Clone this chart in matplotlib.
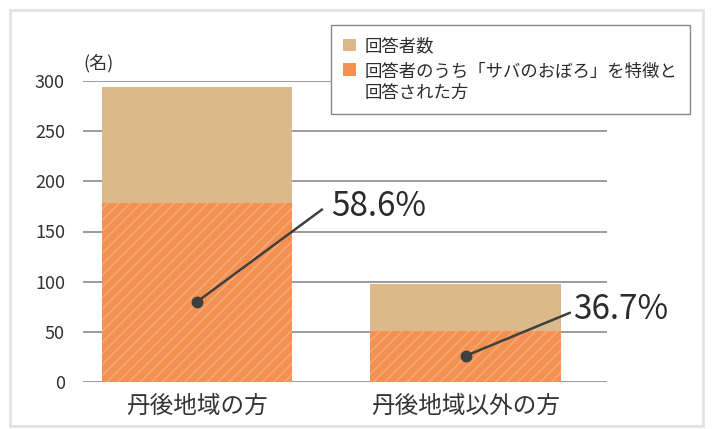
import matplotlib.pyplot as plt
from matplotlib.patches import Patch, Rectangle

plt.rcParams['font.family'] = ['Noto Sans CJK JP', 'DejaVu Sans']
plt.rcParams['hatch.linewidth'] = 1.3

# respondents per area, and those who named "サバのおぼろ" as a feature
areas = ['丹後地域の方', '丹後地域以外の方']
respondents = [294, 98]
named_feature = [178, 51]
pct_labels = ['58.6%', '36.7%']

# annotation geometry (data coords): dot on the bar, line end, text anchor
dot_y = [80, 26]
line_end = [(0.466, 172), (1.389, 69)]
text_pos = [(0.50, 175), (1.40, 72)]

TAN = '#dcb98b'
ORANGE = '#f39152'
STRIPE = '#f6a872'
DARK = '#3f3f3f'

W, H = 712, 429
fig = plt.figure(figsize=(W / 100, H / 100), dpi=100)
ax = fig.add_axes([83 / W, 47 / H, 524 / W, 301 / H])

x = list(range(len(areas)))
bw = 0.708
ax.bar(x, respondents, width=bw, color=TAN, lw=0, zorder=2)
ax.bar(x, named_feature, width=bw, facecolor=ORANGE, edgecolor=STRIPE,
       hatch='///', lw=0, zorder=3)

for i in x:
    ex, ey = line_end[i]
    ax.plot([i, ex], [dot_y[i], ey], color=DARK, lw=1.8, zorder=4,
            solid_capstyle='round')
    ax.plot(i, dot_y[i], 'o', color=DARK, ms=7.5, zorder=5)
    tx, ty = text_pos[i]
    ax.text(tx, ty, pct_labels[i], fontsize=24, color='#2b2b2b',
            va='center', ha='left', zorder=5)

ax.set_xlim(-0.4246, 1.527)
ax.set_ylim(0, 300)
ax.set_yticks(range(0, 301, 50))
ax.set_xticks(x, areas)
ax.yaxis.grid(True, color='#8a8a8a', lw=1.2)
ax.set_axisbelow(True)
for s in ax.spines.values():
    s.set_visible(False)
ax.tick_params(axis='y', length=0, pad=13, labelsize=13, labelcolor='#333333')
ax.tick_params(axis='x', length=0, pad=9, labelsize=17, labelcolor='#333333')

ax.text(0, 1.06, '(名)', transform=ax.transAxes, fontsize=13,
        color='#333333', ha='left', va='center')

handles = [Patch(facecolor=TAN, lw=0), Patch(facecolor=ORANGE, lw=0)]
labels = ['回答者数', '回答者のうち「サバのおぼろ」を特徴と\n回答された方']
leg = ax.legend(handles, labels, loc='upper left',
                bbox_to_anchor=(331 / W, 1 - 25 / H),
                bbox_transform=fig.transFigure, fontsize=12.5,
                frameon=True, fancybox=False, framealpha=1,
                edgecolor='#888888', handlelength=0.75, handleheight=0.75,
                handletextpad=0.5, labelspacing=0.45, borderpad=0.7,
                borderaxespad=0)
leg.get_frame().set_linewidth(1.0)
for t in leg.get_texts():
    t.set_color('#2b2b2b')
    t.set_linespacing(1.2)
# keep the swatch of the two-line entry next to its first line
rows = leg._legend_handle_box.get_children()[0].get_children()
rows[1].align = 'top'

# light outer frame around the whole panel
fig.add_artist(Rectangle((10 / W, 3 / H), 693 / W, 416 / H,
                         transform=fig.transFigure, fill=False,
                         ec='#e2e2e2', lw=2))

fig.savefig('out.png', dpi=100)
